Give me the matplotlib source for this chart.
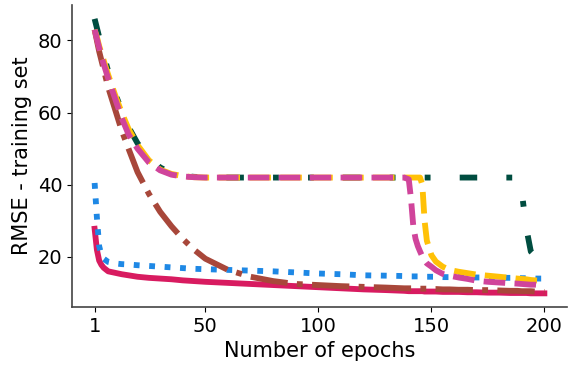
import matplotlib
matplotlib.use("Agg")
import matplotlib.pyplot as plt

epochs = [1, 2, 3, 4, 5, 7, 10, 13, 16, 20, 25, 30, 35, 40, 45, 50, 60, 70, 80, 90,
          100, 110, 120, 130, 138, 140, 141, 142, 143, 144, 145, 146, 147, 148, 150,
          152, 155, 158, 162, 166, 170, 175, 180, 185, 188, 190, 192, 194, 196, 198, 200]

rmse_green = [86, 83.5, 81, 78.5, 76, 71.5, 65.5, 60.5, 56, 51.5, 47.5, 44.8, 43.2, 42.5, 42.2, 42.1, 42, 42, 42, 42,
              42, 42, 42, 42, 42, 42, 42, 42, 42, 42, 42, 42, 42, 42, 42,
              42, 42, 42, 42, 42, 42, 42, 42, 42, 42, 38, 28, 21.5, 20.2, 19.5, 18.8]

rmse_yellow = [83, 81, 78.5, 76.5, 74.5, 70.5, 65, 60, 55.5, 51, 46.8, 44.2, 43, 42.4, 42.1, 42, 42, 42, 42, 42,
               42, 42, 42, 42, 42, 42, 42, 42, 42, 42, 42, 40, 30, 24.5, 20.5,
               18.7, 17.3, 16.4, 15.9, 15.5, 15.1, 14.8, 14.5, 14.2, 14, 13.9, 13.8, 13.6, 13.5, 13.4, 13.3]

rmse_pink = [83, 80.5, 78, 75.5, 73.5, 69.5, 64, 58.5, 54, 50, 46.2, 44, 42.8, 42.3, 42.1, 42, 42, 42, 42, 42,
             42, 42, 42, 42, 42, 41.5, 36, 28.5, 25, 23, 21.5, 20.1, 19, 18.2, 17.3,
             16.3, 15.3, 14.8, 14.3, 13.9, 13.4, 13.1, 12.9, 12.7, 12.6, 12.5, 12.4, 12.3, 12.3, 12.2, 12.2]

rmse_brown = [83, 80, 77, 74.5, 72, 67, 61, 55, 50, 43.5, 37.5, 32.5, 28.5, 25, 22, 19.5, 16.4, 14.5, 13.3, 12.5,
              12.2, 11.9, 11.7, 11.5, 11.3, 11.3, 11.3, 11.3, 11.2, 11.2, 11.2, 11.2, 11.2, 11.2, 11.1,
              11.1, 11.0, 11.0, 10.9, 10.9, 10.8, 10.8, 10.7, 10.6, 10.6, 10.5, 10.5, 10.5, 10.4, 10.4, 10.3]

rmse_blue = [40.5, 31, 23, 20.5, 19.5, 18.6, 18.2, 18, 17.9, 17.7, 17.5, 17.3, 17.1, 16.9, 16.7, 16.6, 16.4, 16.2, 16, 15.7,
             15.4, 15.2, 14.9, 14.8, 14.7, 14.6, 14.6, 14.6, 14.6, 14.6, 14.5, 14.5, 14.5, 14.5, 14.5,
             14.5, 14.4, 14.4, 14.4, 14.3, 14.3, 14.3, 14.2, 14.2, 14.2, 14.1, 14.1, 14.1, 14.0, 14.0, 14.0]

rmse_red = [27.8, 22, 19, 17.8, 17, 16, 15.6, 15.2, 14.9, 14.5, 14.2, 14, 13.8, 13.5, 13.3, 13.1, 12.8, 12.5, 12.2, 11.9,
            11.6, 11.3, 11, 10.8, 10.6, 10.5, 10.5, 10.5, 10.5, 10.5, 10.5, 10.5, 10.4, 10.4, 10.4,
            10.4, 10.3, 10.3, 10.3, 10.2, 10.2, 10.1, 10.1, 10.0, 10.0, 10.0, 10.0, 9.9, 9.9, 9.9, 9.9]

xticks = [1, 50, 100, 150, 200]

fig, ax = plt.subplots(figsize=(5.68, 3.66), dpi=100)
fig.subplots_adjust(left=0.127, right=0.998, bottom=0.161, top=0.986)

lw = 4.2
ax.plot(epochs, rmse_red, color="#D81B60", lw=lw, linestyle="-")
ax.plot(epochs, rmse_blue, color="#1E88E5", lw=lw, linestyle=":")
ax.plot(epochs, rmse_brown, color="#A8473A", lw=lw, linestyle="-.")
ax.plot(epochs, rmse_green, color="#004D40", lw=lw, linestyle=(0, (3, 5, 1, 5, 1, 5)))
ax.plot(epochs, rmse_yellow, color="#FFC107", lw=lw, linestyle="--")
ax.plot(epochs, rmse_pink, color="#D0449B", lw=lw, linestyle="--")

ax.set_xticks(xticks)
ax.tick_params(labelsize=14)
ax.set_yticks([20, 40, 60, 80])
ax.set_xlabel("Number of epochs", fontsize=15)
ax.set_ylabel("RMSE - training set", fontsize=15)

ax.spines["top"].set_visible(False)
ax.spines["right"].set_visible(False)
for s in ["left", "bottom"]:
    ax.spines[s].set_color("#444444")
    ax.spines[s].set_linewidth(1.2)

plt.savefig("out.png", dpi=100)
